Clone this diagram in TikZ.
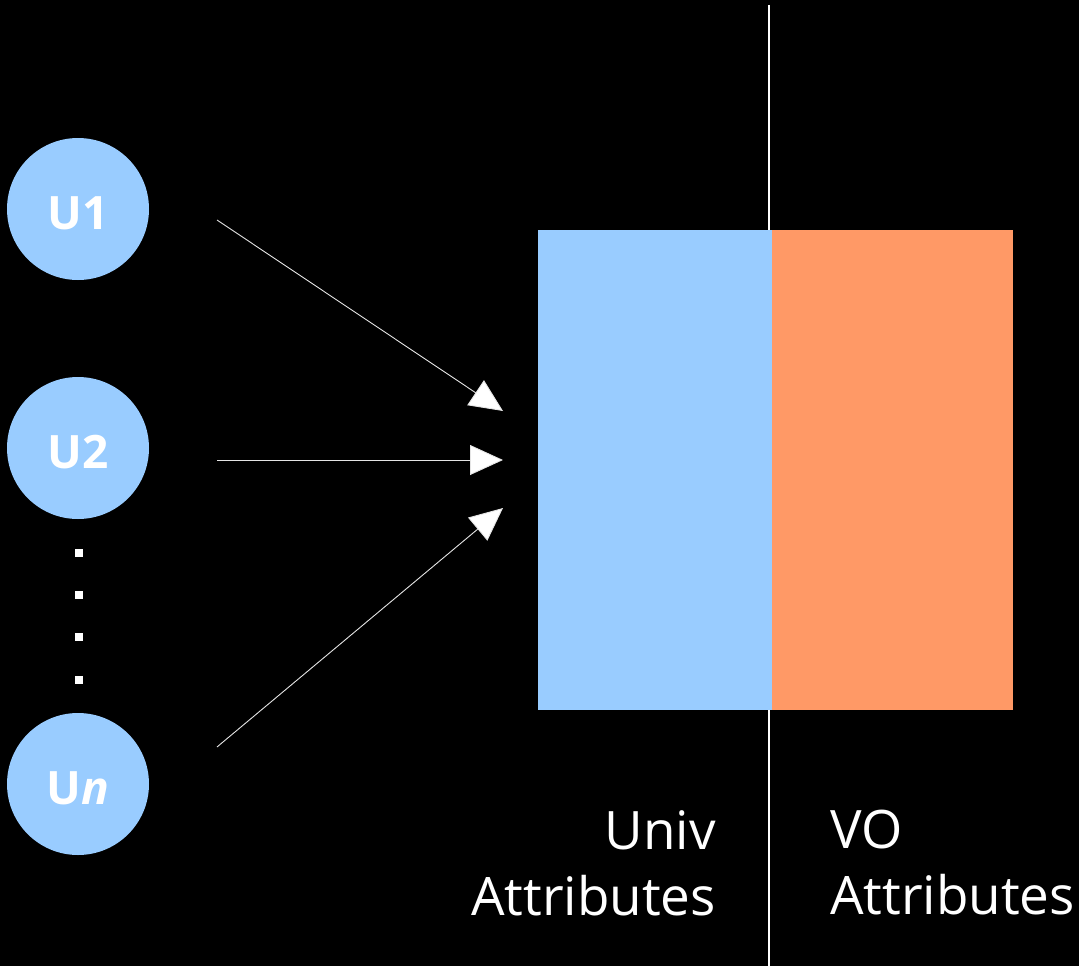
\documentclass[tikz,border=0pt]{standalone}
\usepackage{fontspec}
\setmainfont{Open Sans}
\usetikzlibrary{arrows.meta}
\definecolor{ublue}{HTML}{99CCFF}
\definecolor{vorange}{HTML}{FF9966}
\newcommand{\lowr}[1]{\raisebox{-4pt}[\height][\depth]{#1}}
\tikzset{
  ucircle/.style={circle, fill=ublue, minimum size=142pt, inner sep=0pt, text=white, font=\fontsize{46}{50}\selectfont\bfseries},
  dotsq/.style={fill=white, minimum size=8pt, inner sep=0pt},
  conn/.style={draw=white!90!black, line width=0.9pt, -{Triangle[length=33pt,width=30pt,fill=white]}},
  lbl/.style={text=white, inner sep=0pt, font=\fontsize{53}{66}\selectfont}
}
\begin{document}
\begin{tikzpicture}[x=1pt,y=-1pt]
\fill[black] (0,0) rectangle (1079,966);
\useasboundingbox (0,0) rectangle (1079,966);
% divider
\draw[white, line width=1.5pt] (769,5) -- (769,966);
% boxes
\node[fill=ublue, minimum width=234pt, minimum height=480pt, inner sep=0pt, anchor=north west] (univ) at (538,230) {};
\node[fill=vorange, minimum width=241pt, minimum height=480pt, inner sep=0pt, anchor=north west] (vo) at (772,230) {};
% users
\node[ucircle] (u1) at (78,209) {\lowr{U1}};
\node[ucircle] (u2) at (78,448) {\lowr{U2}};
\node[ucircle] (un) at (78,784) {\lowr{U\textit{n}}};
\node[dotsq] (d1) at (79,553) {};
\node[dotsq] (d2) at (79,595) {};
\node[dotsq] (d3) at (79,637) {};
\node[dotsq] (d4) at (79,680) {};
% connectors
\coordinate (s1) at (217,220);
\coordinate (s2) at (217,460);
\coordinate (s3) at (217,747);
\coordinate (e1) at (503,411);
\coordinate (e2) at (503,460);
\coordinate (e3) at (503,508);
\draw[conn] (s1) -- (e1);
\draw[conn] (s2) -- (e2);
\draw[conn] (s3) -- (e3);
% labels
\node[lbl, align=right, anchor=north east] (lu) at (716,810) {Univ\\Attributes};
\node[lbl, align=left, anchor=north west] (lv) at (830,810) {VO\\Attributes};
\end{tikzpicture}
\end{document}
